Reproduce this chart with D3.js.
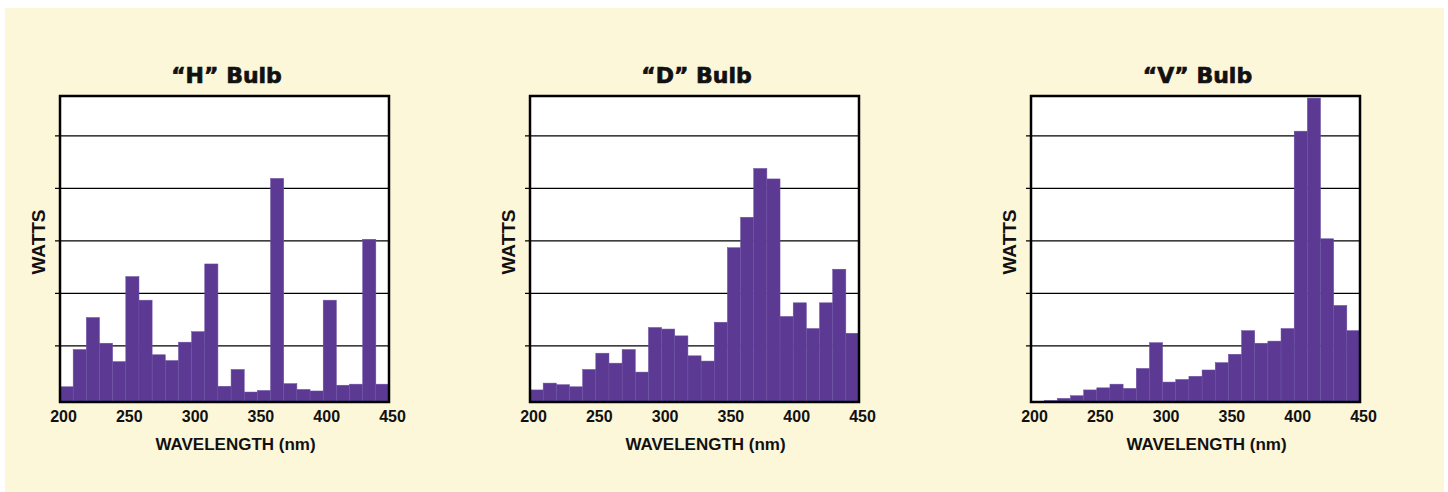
<!DOCTYPE html>
<html>
<head>
<meta charset="utf-8">
<script src="https://cdn.jsdelivr.net/npm/d3@7"></script>
<style>
  html, body { margin: 0; padding: 0; background: #fff; }
</style>
</head>
<body>
<div id="chart"></div>
<script>
// wavelength bins, 10 nm wide, starting at each value
const wavelengths = d3.range(200, 450, 10);
const xTicks = [200, 250, 300, 350, 400, 450];
// watts, in grid units measured up from the frame bottom
const gridTicks = [1.08, 2.08, 3.08, 4.08, 5.08];

const titles = ["\u201CH\u201D Bulb", "\u201CD\u201D Bulb", "\u201CV\u201D Bulb"];

const hBulb = [0.29, 1.00, 1.61, 1.12, 0.77, 2.39, 1.94, 0.90, 0.79, 1.14, 1.34, 2.63, 0.30,
               0.62, 0.19, 0.22, 4.26, 0.35, 0.24, 0.21, 1.94, 0.32, 0.34, 3.10, 0.34];
const dBulb = [0.23, 0.36, 0.33, 0.29, 0.62, 0.93, 0.74, 1.00, 0.57, 1.42, 1.39, 1.26, 0.88,
               0.78, 1.52, 2.94, 3.52, 4.45, 4.25, 1.63, 1.89, 1.40, 1.89, 2.53, 1.31];
const vBulb = [0.01, 0.03, 0.07, 0.12, 0.23, 0.27, 0.34, 0.26, 0.64, 1.13, 0.38, 0.43, 0.49,
               0.61, 0.75, 0.91, 1.36, 1.12, 1.16, 1.40, 5.16, 5.79, 3.11, 1.84, 1.36];

const series = [hBulb, dBulb, vBulb];

const width = 1448, height = 492;
const panelLeft = [60, 530, 1031];
const plotTop = 96, plotW = 329, plotH = 306;
const barColor = "#5c3a94";
const font = "'Liberation Sans', Arial, sans-serif";

const svg = d3.select("#chart")
    .append("svg")
    .attr("width", width)
    .attr("height", height);

svg.append("rect")
    .attr("x", 5).attr("y", 8)
    .attr("width", 1439).attr("height", 484)
    .attr("fill", "#fdf7da");

const x = d3.scaleLinear().domain([200, 450]).range([0, plotW]);
const y = d3.scaleLinear().domain([0, 5.83]).range([plotH, 0]);

series.forEach((values, i) => {
    const g = svg.append("g")
        .attr("transform", `translate(${panelLeft[i]},${plotTop})`);

    g.append("rect")
        .attr("width", plotW).attr("height", plotH)
        .attr("fill", "#fff");

    // grid lines with short ticks poking out on the left
    g.append("g")
        .attr("transform", "translate(-5,0)")
        .call(d3.axisLeft(y).tickValues(gridTicks).tickSize(-(plotW + 5)).tickFormat(""))
        .call(a => a.select(".domain").remove())
        .call(a => a.selectAll("line").attr("stroke", "#000").attr("stroke-width", 1.3));

    g.append("g")
        .selectAll("rect")
        .data(values)
        .join("rect")
        .attr("x", (d, j) => x(wavelengths[j]))
        .attr("width", x(210) - x(200))
        .attr("y", d => y(d))
        .attr("height", d => y(0) - y(d))
        .attr("fill", barColor)
        .attr("stroke", "#6c50a3")
        .attr("stroke-width", 0.5);

    g.append("rect")
        .attr("width", plotW).attr("height", plotH)
        .attr("fill", "none")
        .attr("stroke", "#000")
        .attr("stroke-width", 2.5);

    g.append("g")
        .attr("transform", `translate(0,${plotH})`)
        .call(d3.axisBottom(x).tickValues(xTicks).tickSize(0).tickPadding(9))
        .call(a => a.select(".domain").remove())
        .call(a => a.selectAll("text")
            .attr("dx", 3)
            .attr("fill", "#111")
            .attr("font-family", font)
            .attr("font-weight", "bold")
            .attr("font-size", 16));

    g.append("text")
        .attr("x", plotW / 2 + 11)
        .attr("y", plotH + 48)
        .attr("text-anchor", "middle")
        .attr("fill", "#111")
        .attr("font-family", font)
        .attr("font-weight", "bold")
        .attr("font-size", 17)
        .text("WAVELENGTH (nm)");

    g.append("text")
        .attr("transform", `translate(-15,${146}) rotate(-90)`)
        .attr("text-anchor", "middle")
        .attr("fill", "#111")
        .attr("font-family", font)
        .attr("font-weight", "bold")
        .attr("font-size", 19)
        .text("WATTS");

    g.append("text")
        .attr("x", plotW / 2 + 2)
        .attr("y", -13.5)
        .attr("text-anchor", "middle")
        .attr("fill", "#111")
        .attr("stroke", "#111")
        .attr("stroke-width", 0.7)
        .attr("font-family", "'DejaVu Sans', sans-serif")
        .attr("font-weight", "bold")
        .attr("font-size", 22)
        .text(titles[i]);
});
</script>
</body>
</html>
